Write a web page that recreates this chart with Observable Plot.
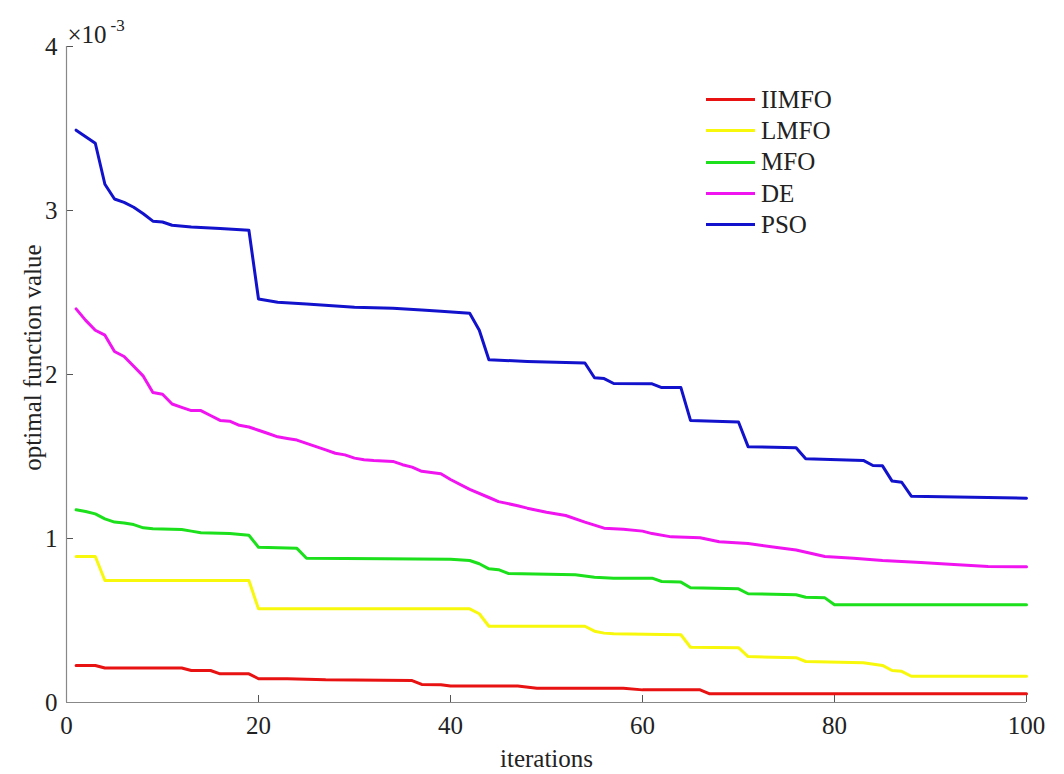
<!DOCTYPE html>
<html>
<head>
<meta charset="utf-8">
<script src="https://cdn.jsdelivr.net/npm/d3@7"></script>
<script src="https://cdn.jsdelivr.net/npm/@observablehq/plot@0.6"></script>
<style>
  html, body { margin: 0; padding: 0; background: #fff; }
  #wrap { position: relative; width: 1064px; height: 774px; font-family: "Liberation Serif", "Times New Roman", serif; }
  #legend { position: absolute; left: 706px; top: 84px; }
  .row { display: flex; align-items: center; height: 31.3px; font-size: 25px; color: #222; }
  .swatch { width: 49px; height: 3px; margin-right: 6px; }
</style>
</head>
<body>
<div id="wrap"><div id="legend"></div></div>
<script>
// Values are in units of 1e-3 (axis shows ×10^-3)
const seriesNames = ["IIMFO", "LMFO", "MFO", "DE", "PSO"];
const seriesColors = ["#e81212", "#f8f80c", "#1be01b", "#f014f0", "#1212cc"];

const iterIIMFO = [1, 3, 4, 12, 13, 15, 16, 19, 20, 23, 27, 36, 37, 39, 40, 47, 49, 58, 60, 66, 67, 100];
const valIIMFO  = [0.226, 0.226, 0.21, 0.21, 0.195, 0.195, 0.175, 0.175, 0.145, 0.145, 0.138, 0.134, 0.11, 0.108, 0.10, 0.10, 0.087, 0.087, 0.077, 0.077, 0.053, 0.053];

const iterLMFO = [1, 3, 4, 19, 20, 42, 43, 44, 54, 55, 56, 57, 62, 64, 65, 70, 71, 76, 77, 83, 85, 86, 87, 88, 100];
const valLMFO  = [0.89, 0.89, 0.744, 0.744, 0.571, 0.571, 0.541, 0.465, 0.465, 0.435, 0.423, 0.419, 0.415, 0.413, 0.337, 0.334, 0.28, 0.273, 0.25, 0.242, 0.226, 0.195, 0.19, 0.16, 0.16];

const iterMFO = [1, 2, 3, 4, 5, 6, 7, 8, 9, 12, 13, 14, 17, 19, 20, 24, 25, 33, 40, 42, 43, 44, 45, 46, 53, 55, 57, 61, 62, 64, 65, 70, 71, 76, 77, 79, 80, 100];
const valMFO  = [1.175, 1.165, 1.15, 1.12, 1.10, 1.095, 1.085, 1.065, 1.06, 1.055, 1.045, 1.035, 1.03, 1.02, 0.947, 0.94, 0.88, 0.876, 0.874, 0.866, 0.846, 0.815, 0.81, 0.787, 0.779, 0.764, 0.758, 0.758, 0.738, 0.734, 0.70, 0.693, 0.663, 0.657, 0.642, 0.638, 0.596, 0.596];

const iterDE = [1, 2, 3, 4, 5, 6, 7, 8, 9, 10, 11, 12, 13, 14, 15, 16, 17, 18, 19, 20, 21, 22, 23, 24, 25, 26, 27, 28, 29, 30, 31, 32, 34, 35, 36, 37, 39, 40, 42, 44, 45, 47, 48, 50, 52, 54, 56, 58, 60, 61, 63, 66, 68, 71, 74, 76, 79, 82, 85, 89, 92, 96, 100];
const valDE  = [2.40, 2.33, 2.27, 2.24, 2.14, 2.11, 2.05, 1.99, 1.89, 1.88, 1.82, 1.80, 1.78, 1.78, 1.75, 1.72, 1.715, 1.69, 1.68, 1.66, 1.64, 1.62, 1.61, 1.60, 1.58, 1.56, 1.54, 1.52, 1.51, 1.49, 1.48, 1.475, 1.47, 1.45, 1.435, 1.41, 1.395, 1.36, 1.30, 1.25, 1.225, 1.20, 1.185, 1.16, 1.14, 1.10, 1.063, 1.057, 1.045, 1.03, 1.01, 1.005, 0.98, 0.97, 0.945, 0.93, 0.89, 0.88, 0.866, 0.854, 0.843, 0.83, 0.827];

const iterPSO = [1, 2, 3, 4, 5, 6, 7, 8, 9, 10, 11, 13, 16, 19, 20, 22, 25, 30, 34, 37, 39, 42, 43, 44, 48, 54, 55, 56, 57, 61, 62, 64, 65, 70, 71, 76, 77, 83, 84, 85, 86, 87, 88, 100];
const valPSO  = [3.49, 3.45, 3.41, 3.16, 3.07, 3.05, 3.02, 2.98, 2.935, 2.93, 2.91, 2.90, 2.89, 2.88, 2.46, 2.44, 2.43, 2.41, 2.404, 2.394, 2.385, 2.374, 2.27, 2.09, 2.08, 2.07, 1.98, 1.975, 1.945, 1.943, 1.92, 1.92, 1.72, 1.71, 1.56, 1.553, 1.486, 1.476, 1.445, 1.443, 1.35, 1.343, 1.258, 1.246];

const xTicks = [0, 20, 40, 60, 80, 100];
const yTicks = [0, 1, 2, 3, 4];
const xLabel = "iterations";
const yLabel = "optimal function value";
const exponentBase = "×10";
const exponentPower = "-3";

const iters = [iterIIMFO, iterLMFO, iterMFO, iterDE, iterPSO];
const vals = [valIIMFO, valLMFO, valMFO, valDE, valPSO];
const data = [];
seriesNames.forEach((name, i) => {
  iters[i].forEach((it, j) => data.push({series: name, iter: it, value: vals[i][j]}));
});

const W = 1064, H = 774, mL = 66, mR = 38, mT = 46, mB = 72;
const frameW = W - mL - mR, frameH = H - mT - mB;

const chart = Plot.plot({
  width: W, height: H,
  marginLeft: mL, marginRight: mR, marginTop: mT, marginBottom: mB,
  style: {fontFamily: "Liberation Serif, Times New Roman, serif", background: "#fff", color: "#222"},
  x: {domain: [0, 100]},
  y: {domain: [0, 4]},
  color: {domain: seriesNames, range: seriesColors},
  marks: [
    Plot.axisX({ticks: xTicks, tickFormat: d => String(d), tickSize: 0, tickPadding: 14, fontSize: 25, label: null, fill: "#222"}),
    Plot.axisY({ticks: yTicks, tickFormat: d => String(d), tickSize: 0, tickPadding: 9, fontSize: 25, label: null, fill: "#222"}),
    Plot.tickX(xTicks, {insetTop: frameH - 7, stroke: "#555", strokeWidth: 1}),
    Plot.tickY(yTicks, {insetRight: frameW - 7, stroke: "#555", strokeWidth: 1}),
    Plot.ruleX([0], {stroke: "#888", strokeWidth: 1.2}),
    Plot.ruleY([0], {stroke: "#888", strokeWidth: 1.2}),
    Plot.line(data, {x: "iter", y: "value", z: "series", stroke: "series", strokeWidth: 3, strokeLinejoin: "round", strokeLinecap: "round"}),
    Plot.text([xLabel], {frameAnchor: "bottom", dy: 64, textAnchor: "middle", lineAnchor: "bottom", fontSize: 25, fill: "#222"}),
    Plot.text([yLabel], {frameAnchor: "left", dx: -34, dy: -17, rotate: -90, textAnchor: "middle", lineAnchor: "middle", fontSize: 25, fill: "#222"}),
    Plot.text([exponentBase], {frameAnchor: "top-left", dx: 1, dy: -4, textAnchor: "start", lineAnchor: "bottom", fontSize: 25, fill: "#222"}),
    Plot.text([exponentPower], {frameAnchor: "top-left", dx: 44, dy: -16, textAnchor: "start", lineAnchor: "bottom", fontSize: 17, fill: "#222"})
  ]
});

const wrap = document.getElementById("wrap");
wrap.insertBefore(chart, wrap.firstChild);

const legend = document.getElementById("legend");
seriesNames.forEach((name, i) => {
  const row = document.createElement("div");
  row.className = "row";
  const sw = document.createElement("div");
  sw.className = "swatch";
  sw.style.background = seriesColors[i];
  const label = document.createElement("span");
  label.textContent = name;
  row.appendChild(sw);
  row.appendChild(label);
  legend.appendChild(row);
});
</script>
</body>
</html>
